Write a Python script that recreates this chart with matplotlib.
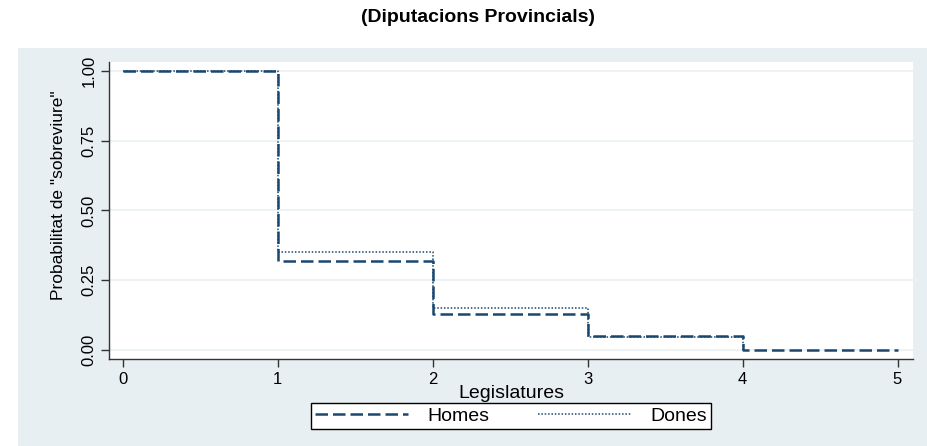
import matplotlib
matplotlib.use('Agg')
import matplotlib.pyplot as plt
from matplotlib.patches import Rectangle

# survival estimates
legis_h = [0, 1, 2, 3, 4, 5]
surv_h = [1.00, 0.32, 0.13, 0.05, 0.0, 0.0]
legis_d = [0, 1, 2, 3, 4]
surv_d = [1.00, 0.35, 0.15, 0.047, 0.0]

yticks = [0, 0.25, 0.5, 0.75, 1.0]
ylabels = ['0.00', '0.25', '0.50', '0.75', '1.00']
xticks = [0, 1, 2, 3, 4, 5]

navy = '#1a476f'
narrow = ['Liberation Sans Narrow', 'Liberation Sans', 'DejaVu Sans']
plain = ['Liberation Sans', 'DejaVu Sans']

W, H, dpi = 927, 446, 100
fig = plt.figure(figsize=(W / dpi, H / dpi), dpi=dpi, facecolor='white')

# light panel behind the graph region
fig.patches.append(Rectangle((18 / W, 0), 1 - 18 / W, 1 - 48 / H,
                             transform=fig.transFigure, facecolor='#e8eff2',
                             edgecolor='none', zorder=-10))

ax = fig.add_axes([109 / W, 1 - 359 / H, 804 / W, 297 / H])
ax.set_facecolor('white')

ax.step(legis_h, surv_h, where='post', color=navy, lw=1.8,
        dashes=(5, 2), label='Homes', zorder=3)
ax.step(legis_d, surv_d, where='post', color=navy, lw=1.1,
        dashes=(1, 1.2), label='Dones', zorder=3)

ax.set_xlim(-0.09, 5.1)
ax.set_ylim(-0.032, 1.032)
ax.set_yticks(yticks)
ax.set_yticklabels(ylabels, rotation=90, va='center', family=narrow, fontsize=12)
ax.set_xticks(xticks)
ax.set_xticklabels([str(x) for x in xticks], family=plain, fontsize=12)
ax.grid(axis='y', color='#eaf0f2', lw=1.2)
ax.set_axisbelow(True)

for s in ['top', 'right']:
    ax.spines[s].set_visible(False)
for s in ['left', 'bottom']:
    ax.spines[s].set_color('#333333')
    ax.spines[s].set_linewidth(1.0)
ax.tick_params(direction='out', length=6, width=1, color='#333333', pad=3)

ax.set_ylabel('Probabilitat de "sobreviure"', family=narrow, fontsize=12.5)
ax.yaxis.set_label_coords(-0.053, 0.55)
ax.set_xlabel('Legislatures', family=plain, fontsize=14, labelpad=-1)

fig.text(478 / W, 1 - 18 / H, '(Diputacions Provincials)', ha='center', va='center',
         family=narrow, fontsize=14, fontweight='bold')

leg = fig.legend(loc='center', bbox_to_anchor=(511 / W, 1 - 416 / H), ncol=2,
                 prop={'family': plain, 'size': 14}, frameon=True, fancybox=False,
                 edgecolor='black', facecolor='white', framealpha=1,
                 handlelength=4.8, columnspacing=2.5, borderpad=0.2, handletextpad=1.0)
leg.get_frame().set_linewidth(1.0)

fig.savefig('out.png', dpi=dpi)
